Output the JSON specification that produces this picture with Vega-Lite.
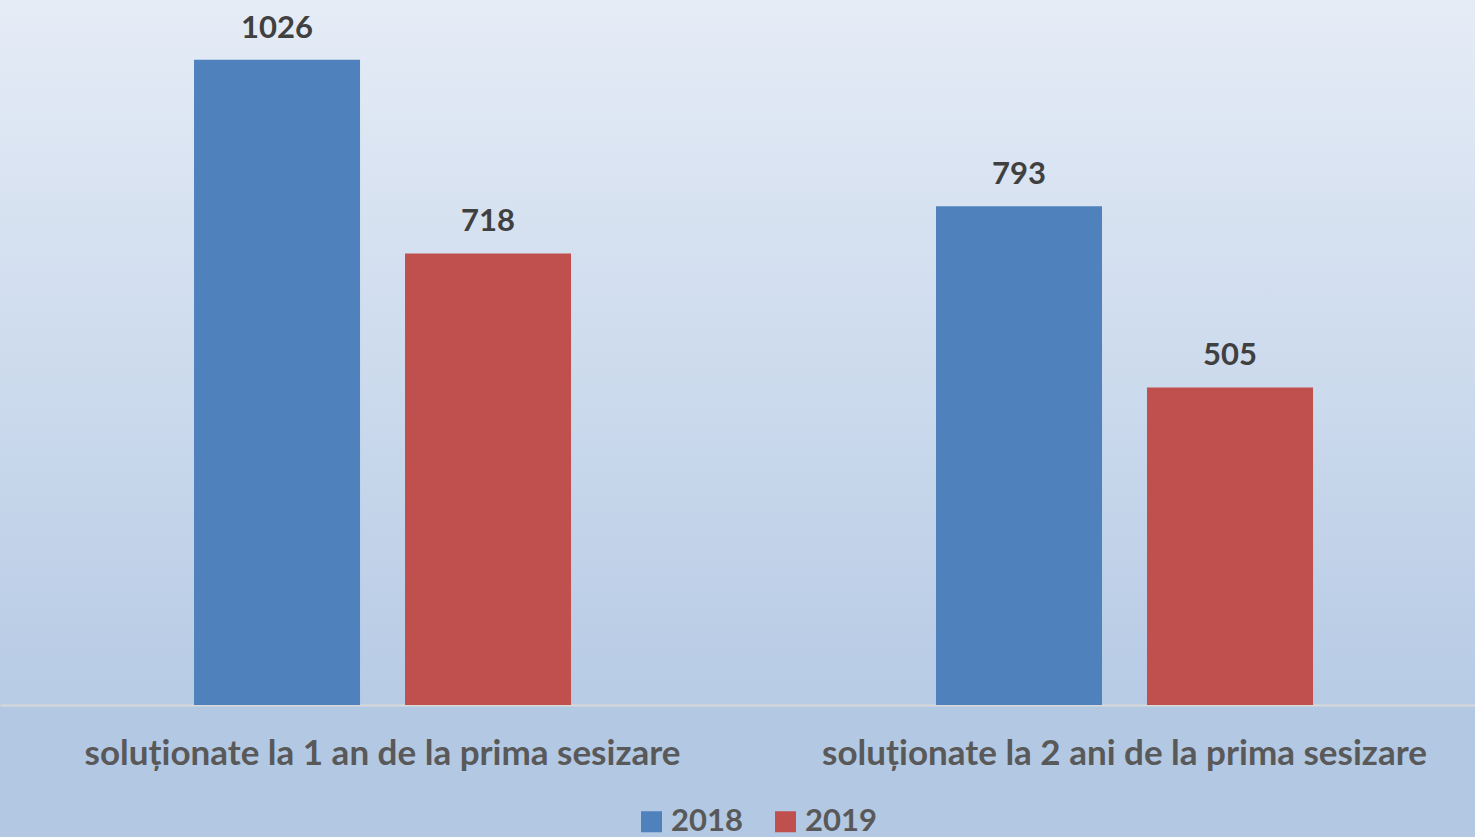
{
  "$schema": "https://vega.github.io/schema/vega-lite/v6.json",
  "width": 1475,
  "height": 705,
  "autosize": {"type": "none"},
  "padding": {"left": 0, "top": 0, "right": 0, "bottom": 132},
  "background": "#b3c8e3",
  "config": {
    "view": {
      "stroke": null,
      "fill": {
        "gradient": "linear",
        "x1": 0, "y1": 0, "x2": 0, "y2": 1,
        "stops": [
          {"offset": 0, "color": "#e5ecf6"},
          {"offset": 1, "color": "#b7cbe5"}
        ]
      }
    },
    "font": "Lato"
  },
  "data": {
    "values": [
      {"categorie": "soluționate la 1 an de la prima sesizare", "an": "2018", "valoare": 1026},
      {"categorie": "soluționate la 1 an de la prima sesizare", "an": "2019", "valoare": 718},
      {"categorie": "soluționate la 2 ani de la prima sesizare", "an": "2018", "valoare": 793},
      {"categorie": "soluționate la 2 ani de la prima sesizare", "an": "2019", "valoare": 505}
    ]
  },
  "encoding": {
    "x": {
      "field": "categorie",
      "type": "nominal",
      "sort": null,
      "scale": {"paddingInner": 0.4919, "paddingOuter": 0.2399, "align": 0.545},
      "axis": {
        "title": null,
        "labelAngle": 0,
        "labelFont": "Lato",
        "labelFontSize": 35,
        "labelFontWeight": "bold",
        "labelColor": "#595959",
        "labelPadding": 31,
        "labelLimit": 800,
        "ticks": false,
        "domainColor": "#d9d9d9",
        "domainWidth": 2,
        "grid": false
      }
    },
    "xOffset": {
      "field": "an",
      "type": "nominal",
      "scale": {"paddingInner": 0.2133, "paddingOuter": 0}
    },
    "y": {
      "field": "valoare",
      "type": "quantitative",
      "scale": {"domain": [0, 1121], "nice": false},
      "axis": null
    }
  },
  "layer": [
    {
      "mark": {"type": "bar"},
      "encoding": {
        "color": {
          "field": "an",
          "type": "nominal",
          "scale": {"domain": ["2018", "2019"], "range": ["#4f81bd", "#c0504d"]},
          "legend": {
            "title": null,
            "orient": "none",
            "direction": "horizontal",
            "legendX": 636,
            "legendY": 806,
            "padding": 0,
            "symbolType": "square",
            "symbolSize": 441,
            "symbolStrokeWidth": 0,
            "symbolOpacity": 1,
            "labelFont": "Lato",
            "labelFontSize": 31,
            "labelFontWeight": "bold",
            "labelColor": "#595959",
            "labelOffset": 4,
            "columnPadding": 27
          }
        }
      }
    },
    {
      "mark": {
        "type": "text",
        "baseline": "alphabetic",
        "dy": -22,
        "font": "Lato",
        "fontSize": 31,
        "fontWeight": "bold",
        "color": "#404040"
      },
      "encoding": {
        "text": {"field": "valoare", "type": "quantitative", "format": "d"}
      }
    }
  ]
}
